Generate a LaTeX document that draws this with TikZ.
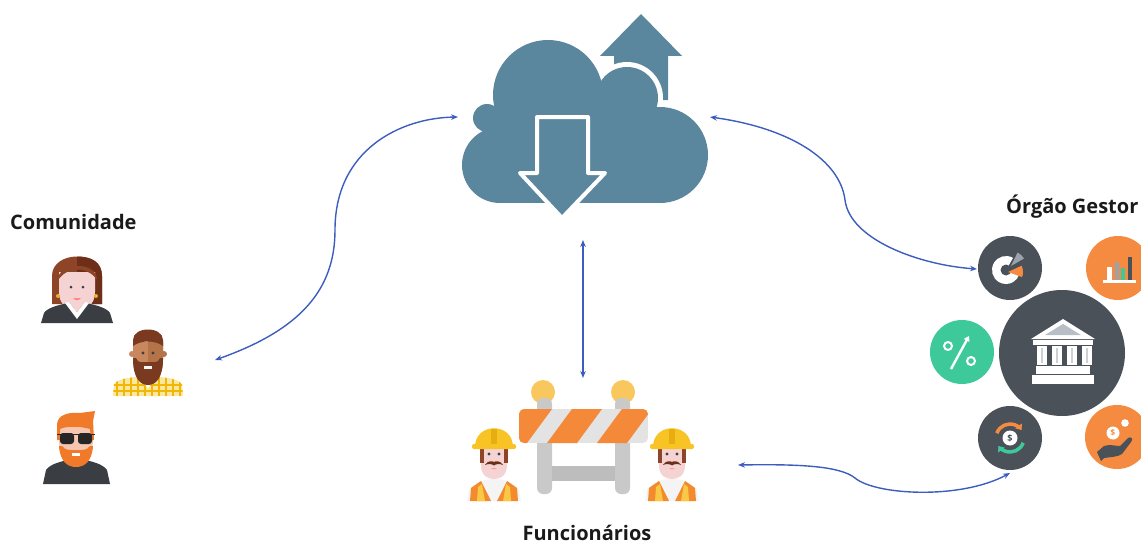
\documentclass[tikz,border=0pt]{standalone}
\usepackage{fontspec}
\setmainfont{Open Sans}
\usetikzlibrary{arrows.meta}

\definecolor{cloudblue}{HTML}{5B879E}
\definecolor{linkblue}{HTML}{3D5DBE}
\definecolor{hubdark}{HTML}{4B5158}
\definecolor{hubgrey}{HTML}{9AA3AC}
\definecolor{hoorange}{HTML}{F58B40}
\definecolor{hogreen}{HTML}{3EC99B}
\definecolor{hairbrown}{HTML}{8E4426}
\definecolor{hairdark}{HTML}{6E2F18}
\definecolor{skinpink}{HTML}{F6D3D3}
\definecolor{skintan}{HTML}{C8875C}
\definecolor{skintandark}{HTML}{B47349}
\definecolor{beardbrown}{HTML}{7A3A20}
\definecolor{jacket}{HTML}{3A3D42}
\definecolor{gold}{HTML}{E8B030}
\definecolor{plaidbg}{HTML}{FBE7A0}
\definecolor{plaidline}{HTML}{F2B705}
\definecolor{gingerhair}{HTML}{F07A2A}
\definecolor{peach}{HTML}{F7C6B0}
\definecolor{helmet}{HTML}{F7C325}
\definecolor{helmetdark}{HTML}{E6AE10}
\definecolor{lampyellow}{HTML}{F8C75E}
\definecolor{barleg}{HTML}{C9C9C9}
\definecolor{barbar}{HTML}{BDBDBD}
\definecolor{boardgrey}{HTML}{E3E3E3}
\definecolor{stripe}{HTML}{F5893A}
\definecolor{vestorange}{HTML}{F38A2C}
\definecolor{vestyellow}{HTML}{F9C846}
\definecolor{shirtwhite}{HTML}{F4F4F4}
\definecolor{labelblack}{HTML}{1A1A1A}

\tikzset{
  link/.style={draw=linkblue, line width=1.4pt,
    {Stealth[length=7pt,width=5.5pt]}-{Stealth[length=7pt,width=5.5pt]}},
  grouplabel/.style={font=\bfseries\fontsize{20}{24}\selectfont, text=labelblack, inner sep=0pt},
  worker/.pic={
    % shirt and safety vest
    \fill[shirtwhite] (-27,41) -- (-25,30) .. controls (-20,22) and (-10,19) .. (0,19)
      .. controls (10,19) and (20,22) .. (25,30) -- (27,41) -- cycle;
    \fill[vestorange] (-24,41) -- (-23,28) -- (-13,21) -- (-3,41) -- cycle;
    \fill[vestorange] (24,41) -- (23,28) -- (13,21) -- (3,41) -- cycle;
    \fill[vestyellow] (-17,41) -- (-16,27) -- (-12,24) -- (-9,41) -- cycle;
    \fill[vestyellow] (17,41) -- (16,27) -- (12,24) -- (9,41) -- cycle;
    % face
    \fill[skinpink] (-13,-12) -- (-13,5) .. controls (-13,16) and (-6,19) .. (0,19)
      .. controls (6,19) and (13,16) .. (13,5) -- (13,-12) -- cycle;
    \fill[hairbrown] (-14,-13) rectangle (-10,3);
    \fill[hairbrown] (10,-13) rectangle (14,3);
    \fill[jacket] (-5,-6) circle (1.7);
    \fill[jacket] (5,-6) circle (1.7);
    \fill[hairdark] (-9,5) .. controls (-6,0) and (-1,1) .. (0,2) .. controls (1,1) and (6,0) .. (9,5)
      .. controls (5,3) and (1,4.5) .. (0,5.5) .. controls (-1,4.5) and (-5,3) .. (-9,5) -- cycle;
    \fill[pink!80!red] (-3,8) .. controls (-1,10) and (1,10) .. (3,8) -- cycle;
    % hard hat
    \fill[helmet] (-19,-13) .. controls (-19,-38) and (19,-38) .. (19,-13) -- cycle;
    \fill[helmetdark] (-3,-31) rectangle (3,-14);
    \fill[helmet, rounded corners=2] (-22,-16) rectangle (22,-11);
  }
}

\begin{document}
\begin{tikzpicture}[x=1pt,y=-1pt]
\useasboundingbox (0,0) rectangle (1141,543);

% ---------- cloud with upload / download arrows ----------
\fill[cloudblue] (614,100) -- (614,56) -- (600,56) -- (641,14) -- (682,56) -- (668,56) -- (668,100) -- cycle;
\fill[white] (627,98) circle (36);
\foreach \cc/\cr in {{(500,165)}/38, {(487,118)}/14, {(548,95)}/55, {(627,98)}/31, {(660,155)}/48}
  \fill[cloudblue] \cc circle (\cr);
\fill[cloudblue] (487,110) rectangle (650,160);
\fill[cloudblue] (500,130) rectangle (660,203);
\filldraw[fill=cloudblue, draw=white, line width=4pt, line join=round]
  (537,117) -- (588,117) -- (588,173) -- (605,173) -- (562,218) -- (520,173) -- (537,173) -- cycle;
\node[inner sep=0pt, minimum width=250pt, minimum height=205pt] (cloud) at (584,116) {};

% ---------- community ----------
\node[grouplabel, anchor=base west] (comunidade) at (10,229) {Comunidade};

% woman
\fill[hairbrown] (52,304) -- (52,276) .. controls (52,250) and (102,250) .. (102,276) -- (102,304) -- cycle;
\fill[hairdark] (77,256.5) .. controls (92,256.5) and (102,262) .. (102,276) -- (102,304) -- (77,304) -- cycle;
\fill[skinpink] (70,300) rectangle (84,312);
\fill[skinpink] (59,272) -- (59,292) .. controls (59,305) and (68,310) .. (77,310)
  .. controls (86,310) and (95,305) .. (95,292) -- (95,272) -- cycle;
\fill[hairbrown] (57,282) .. controls (57,262) and (97,260) .. (97,280)
  .. controls (92,272) and (82,268) .. (72,270) .. controls (65,272) and (60,276) .. (57,282) -- cycle;
\fill[jacket] (71,287) circle (1.5);
\fill[jacket] (83,287) circle (1.5);
\fill[pink!70!red] (73,298) .. controls (75,301) and (79,301) .. (81,298) -- cycle;
\fill[gold] (58,296) circle (2);
\fill[gold] (96,296) circle (2);
\fill[jacket] (41,323) -- (44,313) .. controls (47,308) and (58,305) .. (68,303) -- (86,303)
  .. controls (96,305) and (107,308) .. (110,313) -- (113,323) -- cycle;
\fill[white] (65,303) -- (77,319) -- (89,303) -- (85,302) -- (77,312) -- (69,302) -- cycle;
\fill[skinpink] (69,302) -- (77,312) -- (85,302) -- cycle;

% bearded man
\begin{scope}
  \clip (113,396) -- (114,384) .. controls (118,379) and (130,377) .. (140,377) -- (156,377)
    .. controls (166,377) and (178,379) .. (182,384) -- (183,396) -- cycle;
  \fill[plaidbg] (110,370) rectangle (186,400);
  \foreach \px in {117,124,...,180} \draw[plaidline, line width=1.6pt] (\px,376) -- (\px,396);
  \draw[plaidline, line width=1.6pt] (110,385) -- (186,385);
  \draw[plaidline, line width=1.6pt] (110,391) -- (186,391);
\end{scope}
\fill[white] (139,377) -- (148,388) -- (157,377) -- cycle;
\fill[skintan] (142,370) rectangle (154,381);
\fill[skintan] (132,354) circle (3);
\fill[skintandark] (164,354) circle (3);
\fill[skintan] (133,342) -- (133,360) .. controls (133,375) and (140,383) .. (148,383)
  .. controls (156,383) and (163,375) .. (163,360) -- (163,342) -- cycle;
\fill[skintandark] (148,340) -- (163,342) -- (163,360) .. controls (163,375) and (156,383) .. (148,383) -- cycle;
\fill[beardbrown] (133,346) -- (133,340) .. controls (133,326) and (163,326) .. (163,340) -- (163,346)
  .. controls (155,340) and (141,340) .. (133,346) -- cycle;
\fill[jacket] (143,353) circle (1.6);
\fill[jacket] (153,353) circle (1.6);
\fill[beardbrown] (133,358) .. controls (133,378) and (140,385) .. (148,385) .. controls (156,385) and (163,378) .. (163,358)
  -- (160,358) .. controls (158,364) and (153,362) .. (148,362) .. controls (143,362) and (138,364) .. (136,358) -- cycle;
\fill[white!85!pink] (144,366) rectangle (152,368.5);

% man with sunglasses
\fill[jacket] (43,484) -- (46,470) .. controls (50,464) and (62,461) .. (69,460) -- (84,460)
  .. controls (91,461) and (103,464) .. (107,470) -- (110,484) -- cycle;
\fill[jacket, rounded corners=2] (67,452) rectangle (86,465);
\fill[peach] (59,424) -- (59,440) .. controls (59,455) and (67,462) .. (76,462)
  .. controls (85,462) and (93,455) .. (93,440) -- (93,424) -- cycle;
\fill[gingerhair] (57,440) -- (57,425) .. controls (57,414) and (70,412) .. (80,413) -- (95,411) -- (93,421) -- (94,440)
  -- (91,440) -- (90,429) .. controls (80,426) and (66,426) .. (60,429) -- (60,440) -- cycle;
\fill[gingerhair] (59,446) .. controls (60,462) and (68,467) .. (76,467) .. controls (84,467) and (92,462) .. (93,446)
  -- (90,446) .. controls (87,451) and (81,450) .. (76,450) .. controls (71,450) and (65,451) .. (62,446) -- cycle;
\fill[white] (72,453) rectangle (80,455.5);
\fill[black!85, rounded corners=3] (60,433) rectangle (74,444);
\fill[black!85, rounded corners=3] (78,433) rectangle (92,444);
\draw[black!85, line width=1.6pt] (57,434.5) -- (95,434.5);

% ---------- road barrier with workers ----------
\fill[lampyellow] (543,392) circle (12);
\fill[lampyellow] (623,392) circle (12);
\fill[barleg, rounded corners=6] (537,398) rectangle (552,494);
\fill[barleg, rounded corners=6] (615,398) rectangle (630,494);
\fill[barbar] (552,466) rectangle (615,481);
\begin{scope}
  \clip[rounded corners=5] (519,409) rectangle (648,443);
  \fill[boardgrey] (519,409) rectangle (648,443);
  \foreach \s in {0,1,2,3} \fill[stripe] ({497+\s*50},443) -- ({527+\s*50},443) -- ({552+\s*50},409) -- ({522+\s*50},409) -- cycle;
\end{scope}
\pic at (494,460) {worker};
\pic at (672,460) {worker};
\node[inner sep=0pt, minimum width=250pt, minimum height=120pt] (works) at (583,440) {};
\node[grouplabel, anchor=base] (funcionarios) at (587,540) {Funcionários};

% ---------- managing body ----------
\node[grouplabel, anchor=base west] (orgao) at (1006,213) {Órgão Gestor};
\fill[hubdark] (1062,353) circle (63);
\fill[hubdark] (1010,268) circle (32);
\fill[hubdark] (1010,438) circle (32);
\fill[hoorange] (1118,268) circle (32);
\fill[hoorange] (1117,437) circle (32);
\fill[hogreen] (962,352) circle (32);

% bank building
\fill[white] (1031,339) -- (1063,319) -- (1095,339) -- cycle;
\fill[hubgrey!70] (1045,335) -- (1063,324) -- (1081,335) -- cycle;
\fill[white] (1033,340) rectangle (1093,345);
\foreach \cx in {1037,1052,1067,1082} {
  \fill[white] (\cx,346) rectangle ({\cx+10},365);
  \fill[hubgrey!50] ({\cx+4},348) rectangle ({\cx+6},363);
}
\fill[white] (1036,366) rectangle (1090,374);
\fill[white] (1032,375) rectangle (1094,384);

% pie chart
\fill[white] (1006,270) -- ++(-60:14) arc (-60:-340:14) -- cycle;
\fill[hubdark] (1006,270) circle (5.5);
\fill[hoorange] (1008,272) -- ++(20:15) arc (20:-25:15) -- cycle;
\fill[hubgrey] (1011,266) -- ++(-30:15) arc (-30:-64:15) -- cycle;

% bar chart
\fill[white] (1107,267) rectangle (1112,280);
\fill[hubgrey] (1115,262) rectangle (1119,280);
\fill[hogreen] (1121,268) rectangle (1125,280);
\fill[hubdark] (1128,257) rectangle (1132,280);
\fill[white] (1103,280) rectangle (1136,283);

% percentage
\draw[white, line width=2pt] (948,346) circle (4);
\draw[white, line width=2pt] (971,361) circle (4);
\draw[white, line width=2.4pt, -{Triangle[length=5pt,width=6pt]}] (951,369) -- (969,336);

% money exchange
\draw[hoorange, line width=3.5pt, -{Triangle[length=5pt,width=8pt]}] (1010,438) ++(-160:14) arc (-160:-35:14);
\draw[hogreen, line width=3.5pt, -{Triangle[length=5pt,width=8pt]}] (1010,438) ++(20:14) arc (20:145:14);
\fill[white] (1010,438) circle (7.5);
\node[text=hubdark, font=\bfseries\fontsize{9}{9}\selectfont, inner sep=0pt] (dollarA) at (1010,438) {\$};

% hand with coins
\fill[hubdark] (1097,452) -- (1104,446) .. controls (1110,444) and (1115,446) .. (1120,446) -- (1128,438)
  .. controls (1131,436) and (1134,439) .. (1131,442) -- (1122,454) .. controls (1118,457) and (1110,457) .. (1104,458)
  -- (1101,461) -- cycle;
\fill[white] (1113,433) circle (6.5);
\fill[white] (1125,423) circle (3.8);
\node[text=hoorange, font=\bfseries\fontsize{8}{8}\selectfont, inner sep=0pt] (dollarB) at (1113,433) {\$};

% ---------- connectors ----------
\coordinate (cloudW) at (458,117);
\coordinate (cloudE) at (710,117);
\coordinate (cloudS) at (583,240);
\coordinate (commE) at (215,360);
\coordinate (worksN) at (583,378);
\coordinate (worksE) at (738,465);
\coordinate (pieW) at (977,269);
\coordinate (coinSW) at (1010,473);

\draw[link] (commE) .. controls (300,330) and (335,290) .. (335,230)
  .. controls (335,150) and (400,118) .. (cloudW);
\draw[link] (cloudE) .. controls (790,128) and (840,160) .. (845,200)
  .. controls (850,240) and (920,265) .. (pieW);
\draw[link] (cloudS) -- (worksN);
\draw[link] (worksE) .. controls (800,464) and (840,466) .. (855,478)
  .. controls (875,495) and (960,500) .. (coinSW);

\end{tikzpicture}
\end{document}
